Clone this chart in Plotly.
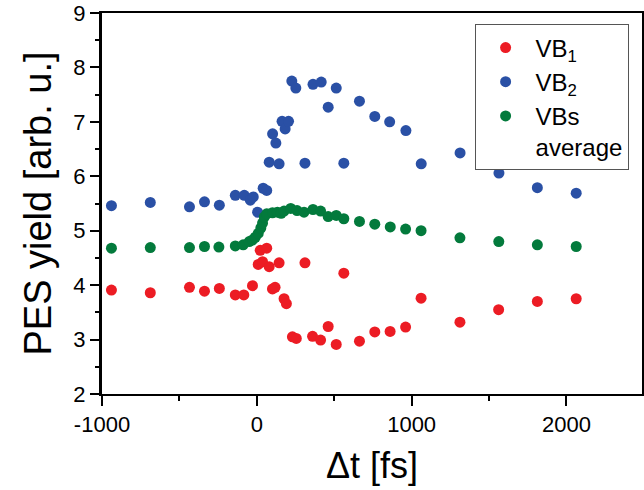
import plotly.graph_objects as go

# Pump-probe delay (fs) and PES yield for each valence band
delay_vb1 = [-939, -688, -435, -338, -242, -139, -84, -28, 9, 22, 37, 64, 80, 101,
             118, 144, 176, 191, 230, 255, 311, 360, 412, 461, 513, 562, 663, 762,
             861, 961, 1061, 1312, 1562, 1812, 2063]
vb1 = [3.91, 3.86, 3.96, 3.89, 3.94, 3.82, 3.82, 3.99, 4.38, 4.64, 4.43, 4.68, 4.34, 3.93,
       3.96, 4.41, 3.75, 3.66, 3.05, 3.02, 4.41, 3.06, 2.99, 3.24, 2.91, 4.22, 2.97, 3.14,
       3.15, 3.23, 3.76, 3.32, 3.55, 3.70, 3.75]

delay_vb2 = [-939, -688, -435, -338, -242, -139, -81, -42, -23, 5, 41, 64, 80, 102,
             123, 144, 163, 183, 205, 226, 252, 311, 363, 416, 461, 513, 562, 663,
             762, 858, 963, 1062, 1313, 1564, 1812, 2063]
vb2 = [5.46, 5.52, 5.44, 5.53, 5.47, 5.65, 5.65, 5.56, 5.62, 5.34, 5.78, 5.74, 6.26, 6.78,
       6.61, 6.23, 7.01, 6.87, 7.01, 7.75, 7.62, 6.24, 7.69, 7.73, 7.27, 7.62, 6.24, 7.38,
       7.10, 7.00, 6.84, 6.23, 6.43, 6.06, 5.79, 5.69]

delay_avg = [-939, -688, -435, -338, -245, -139, -88, -49, -28, -10, 9, 26, 37, 48,
             64, 101, 133, 157, 176, 219, 260, 305, 363, 412, 461, 513, 562, 663,
             762, 862, 961, 1061, 1312, 1563, 1812, 2063]
vb_avg = [4.68, 4.69, 4.69, 4.71, 4.70, 4.72, 4.74, 4.80, 4.83, 4.88, 4.95, 5.05, 5.14, 5.25,
          5.31, 5.33, 5.34, 5.32, 5.36, 5.41, 5.37, 5.34, 5.39, 5.36, 5.26, 5.28, 5.22, 5.17,
          5.12, 5.07, 5.03, 5.00, 4.87, 4.80, 4.74, 4.71]

# Axis ticks
x_tickvals = [-1000, 0, 1000, 2000]
x_ticktext = ["-1000", "0", "1000", "2000"]
y_tickvals = [2, 3, 4, 5, 6, 7, 8, 9]
y_ticktext = ["2", "3", "4", "5", "6", "7", "8", "9"]

FONT = "Liberation Sans, Arial, sans-serif"
RED = "#EC1C24"
BLUE = "#2A50A5"
GREEN = "#037A3C"
X_RANGE = [-1000, 2488]
Y_RANGE = [2, 9]

W, H = 644, 490
M_L, M_R, M_T, M_B = 102, 0, 13, 96
PLOT_W = W - M_L - M_R
PLOT_H = H - M_T - M_B
LW = 2

fig = go.Figure()
for xs, ys, name, color in [
    (delay_vb1, vb1, "VB<sub>1</sub>", RED),
    (delay_vb2, vb2, "VB<sub>2</sub>", BLUE),
    (delay_avg, vb_avg, "VBs<br>average", GREEN),
]:
    fig.add_trace(go.Scatter(x=xs, y=ys, mode="markers", name=name,
                             marker=dict(color=color, size=11, line=dict(width=0))))


def minor(kind, step):
    return dict(dtick=step, tick0=0, ticks=kind, ticklen=5, tickwidth=2,
                tickcolor="black", showgrid=False)


main_axis = dict(showgrid=False, zeroline=False, showline=True, mirror=True,
                 linecolor="#000000", linewidth=LW, tickcolor="black", tickwidth=2)
tick_axis = dict(showgrid=False, zeroline=False, showline=False,
                 tickcolor="black", tickwidth=2)

# Box outlining the plotting area (border sits just outside the data region)
frame_box = dict(xref="paper", yref="paper", x=0.5, y=0.5,
                 xanchor="center", yanchor="middle", showarrow=False,
                 text=" ", width=PLOT_W, height=PLOT_H,
                 borderpad=0, borderwidth=LW, bordercolor="black",
                 bgcolor="rgba(0,0,0,0)")

fig.update_layout(
    width=W, height=H,
    margin=dict(l=M_L, r=M_R, t=M_T, b=M_B),
    paper_bgcolor="white", plot_bgcolor="rgba(0,0,0,0)",
    font=dict(family=FONT, color="black", size=22),
    annotations=[frame_box],
    legend=dict(x=0.69, y=0.97, xanchor="left", yanchor="top",
                bordercolor="#555555", borderwidth=1, bgcolor="white",
                font=dict(size=24), valign="top", tracegroupgap=0,
                itemwidth=50),
    xaxis=dict(range=X_RANGE, tickvals=x_tickvals, ticktext=x_ticktext,
               ticks="outside", ticklen=10, tickfont=dict(size=22),
               minor=minor("outside", 500),
               title=dict(text="Δt [fs]", font=dict(size=36), standoff=16),
               **main_axis),
    xaxis2=dict(range=X_RANGE, overlaying="x", side="top", anchor="y",
                tickvals=x_tickvals, ticks="inside", ticklen=10,
                showticklabels=False, minor=minor("inside", 500),
                **tick_axis),
    yaxis=dict(range=Y_RANGE, tickvals=y_tickvals, ticktext=y_ticktext,
               ticks="outside", ticklen=10, tickfont=dict(size=22),
               minor=minor("outside", 0.5),
               title=dict(text="PES yield [arb. u.]", font=dict(size=38), standoff=10),
               **main_axis),
    yaxis2=dict(range=Y_RANGE, overlaying="y", side="right", anchor="x",
                tickvals=y_tickvals, ticks="inside", ticklen=10,
                showticklabels=False, minor=minor("inside", 0.5),
                **tick_axis),
)

fig.write_html("out.html")
